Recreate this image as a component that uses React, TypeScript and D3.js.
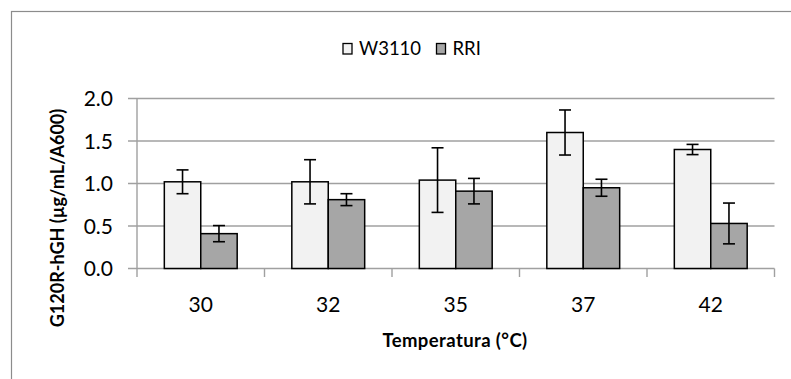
import React, { useEffect, useRef } from 'react';
import * as d3 from 'd3';

// temperatures (°C)
const categories = ['30', '32', '35', '37', '42'];
const seriesNames = ['W3110', 'RRI'];
const w3110Values = [1.02, 1.02, 1.04, 1.6, 1.4];
const w3110Errors = [0.14, 0.26, 0.38, 0.265, 0.06];
const rriValues = [0.41, 0.81, 0.91, 0.95, 0.53];
const rriErrors = [0.095, 0.07, 0.15, 0.1, 0.24];
const yTicks = [0, 0.5, 1.0, 1.5, 2.0];

const colors = { W3110: '#f2f2f2', RRI: '#a6a6a6' };
const FONT = 'Lato, "Open Sans", sans-serif';

const App = () => {
  const svgRef = useRef<SVGSVGElement>(null);

  useEffect(() => {
    const width = 791;
    const height = 379;
    const svg = d3.select(svgRef.current).attr('width', width).attr('height', height);
    svg.selectAll('*').remove();

    const plot = { left: 137, right: 774.5, top: 98.5, bottom: 268.5 };

    // outer chart frame (runs past the picture edges)
    svg.append('rect')
      .attr('x', 11.5).attr('y', 11.5)
      .attr('width', 900).attr('height', 500)
      .attr('fill', '#fff')
      .attr('stroke', '#8c8c8c')
      .attr('stroke-width', 1.2);

    const x = d3.scaleBand().domain(categories).range([plot.left, plot.right]).padding(0);
    const y = d3.scaleLinear().domain([0, 2]).range([plot.bottom, plot.top]);

    // gap width 150% like Excel
    const barW = x.bandwidth() / 3.5;
    const xSub = d3.scaleBand().domain(seriesNames).range([0, barW * 2]).padding(0);

    const g = svg.append('g');

    // grid + y ticks
    g.selectAll('.grid')
      .data(yTicks)
      .enter()
      .append('line')
      .attr('x1', plot.left - 9)
      .attr('x2', plot.right)
      .attr('y1', d => y(d))
      .attr('y2', d => y(d))
      .attr('stroke', '#a0a0a0')
      .attr('stroke-width', 1.4);

    // y axis line
    g.append('line')
      .attr('x1', plot.left).attr('x2', plot.left)
      .attr('y1', plot.top).attr('y2', plot.bottom)
      .attr('stroke', '#a0a0a0').attr('stroke-width', 1.4);

    // x axis ticks at category boundaries
    const bounds = categories.map(c => x(c)!).concat([plot.right]);
    g.selectAll('.xtick')
      .data(bounds)
      .enter()
      .append('line')
      .attr('x1', d => d).attr('x2', d => d)
      .attr('y1', plot.bottom).attr('y2', plot.bottom + 8.5)
      .attr('stroke', '#a0a0a0').attr('stroke-width', 1.4);

    // y tick labels
    g.selectAll('.ylab')
      .data(yTicks)
      .enter()
      .append('text')
      .attr('x', plot.left - 24)
      .attr('y', d => y(d))
      .attr('dy', '0.36em')
      .attr('text-anchor', 'end')
      .attr('font-family', FONT)
      .attr('font-size', 21)
      .attr('fill', '#000')
      .text(d => d.toFixed(1));

    // x tick labels
    g.selectAll('.xlab')
      .data(categories)
      .enter()
      .append('text')
      .attr('x', d => x(d)! + x.bandwidth() / 2)
      .attr('y', 311.5)
      .attr('text-anchor', 'middle')
      .attr('font-family', FONT)
      .attr('font-size', 21)
      .attr('fill', '#000')
      .text(d => d);

    const rows = categories.flatMap((c, i) => [
      { cat: c, s: 'W3110', v: w3110Values[i], e: w3110Errors[i] },
      { cat: c, s: 'RRI', v: rriValues[i], e: rriErrors[i] },
    ]);
    const barX = (d: any) => x(d.cat)! + (x.bandwidth() - barW * 2) / 2 + xSub(d.s)!;

    // bars
    g.selectAll('.bar')
      .data(rows)
      .enter()
      .append('rect')
      .attr('x', barX)
      .attr('y', d => y(d.v))
      .attr('width', barW)
      .attr('height', d => plot.bottom - y(d.v))
      .attr('fill', d => colors[d.s as 'W3110' | 'RRI'])
      .attr('stroke', '#000')
      .attr('stroke-width', 1.5);

    // error bars
    const cap = 6;
    const eb = g.selectAll('.err').data(rows).enter().append('g')
      .attr('stroke', '#000').attr('stroke-width', 1.6);
    eb.append('line')
      .attr('x1', d => barX(d) + barW / 2).attr('x2', d => barX(d) + barW / 2)
      .attr('y1', d => y(d.v + d.e)).attr('y2', d => y(d.v - d.e));
    eb.append('line')
      .attr('x1', d => barX(d) + barW / 2 - cap).attr('x2', d => barX(d) + barW / 2 + cap)
      .attr('y1', d => y(d.v + d.e)).attr('y2', d => y(d.v + d.e));
    eb.append('line')
      .attr('x1', d => barX(d) + barW / 2 - cap).attr('x2', d => barX(d) + barW / 2 + cap)
      .attr('y1', d => y(d.v - d.e)).attr('y2', d => y(d.v - d.e));

    // axis titles
    svg.append('text')
      .attr('x', 455)
      .attr('y', 346.5)
      .attr('text-anchor', 'middle')
      .attr('font-family', FONT)
      .attr('font-weight', 'bold')
      .attr('font-size', 18.5)
      .attr('letter-spacing', 0.4)
      .text('Temperatura (°C)');

    svg.append('text')
      .attr('transform', `translate(63.5,218) rotate(-90)`)
      .attr('text-anchor', 'middle')
      .attr('font-family', FONT)
      .attr('font-weight', 'bold')
      .attr('font-size', 18)
      .text('G120R-hGH (µg/mL/A600)');

    // legend
    const legendX = [342.5, 436];
    const leg = svg.selectAll('.leg').data(seriesNames).enter().append('g')
      .attr('transform', (d, i) => `translate(${legendX[i]},43)`);
    leg.append('rect')
      .attr('x', 0.5).attr('y', 0.5)
      .attr('width', 9).attr('height', 10.5)
      .attr('fill', d => colors[d as 'W3110' | 'RRI'])
      .attr('stroke', '#000').attr('stroke-width', 1.3);
    leg.append('text')
      .attr('x', 16.5).attr('y', 11.5)
      .attr('font-family', FONT)
      .attr('font-size', 18.5)
      .text(d => d);
  }, []);

  return (
    <div style={{ position: 'absolute', left: 0, top: 0, width: 791, height: 379, overflow: 'hidden', background: '#fff' }}>
      <svg ref={svgRef} style={{ display: 'block' }}></svg>
    </div>
  );
};

export default App;
